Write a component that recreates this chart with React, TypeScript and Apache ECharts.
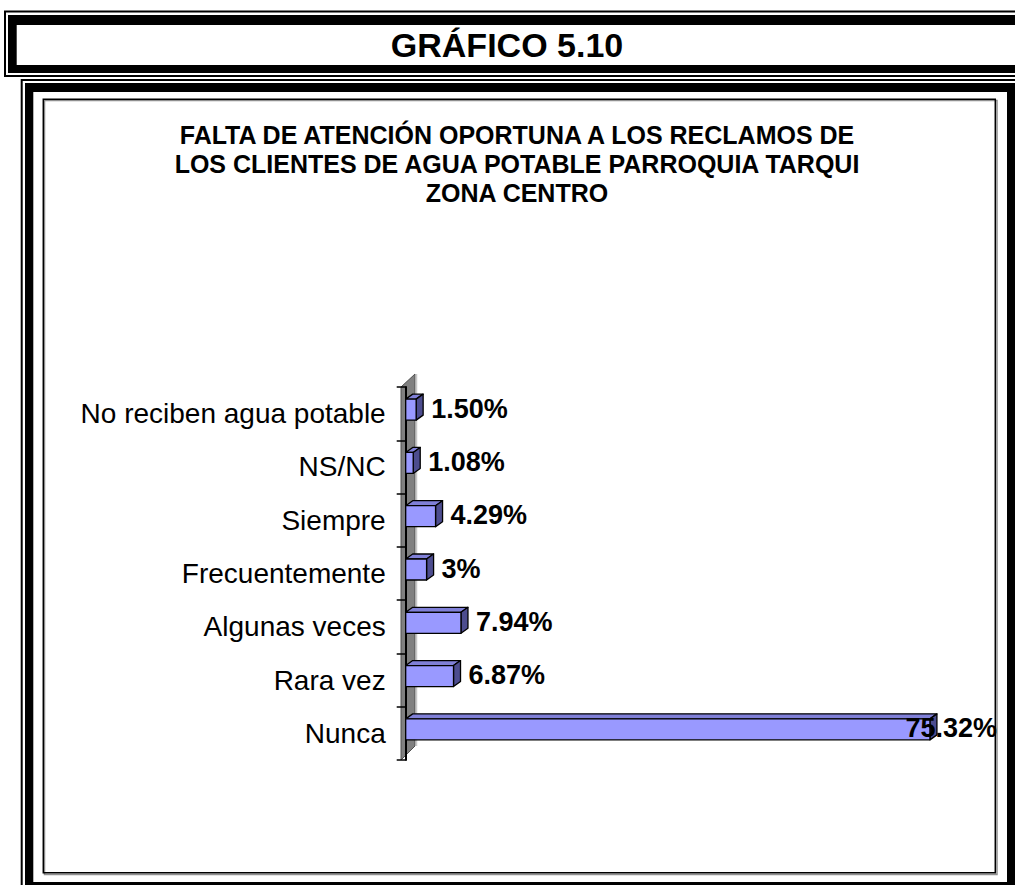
import React, { useEffect, useRef } from "react";
import * as echarts from "echarts";

const categories = [
  "No reciben agua potable",
  "NS/NC",
  "Siempre",
  "Frecuentemente",
  "Algunas veces",
  "Rara vez",
  "Nunca",
];
const percentages = [1.5, 1.08, 4.29, 3, 7.94, 6.87, 75.32];
const percentLabels = ["1.50%", "1.08%", "4.29%", "3%", "7.94%", "6.87%", "75.32%"];
const headerText = "GRÁFICO 5.10";
const titleLines = [
  "FALTA DE ATENCIÓN OPORTUNA A LOS RECLAMOS DE",
  "LOS CLIENTES DE AGUA POTABLE PARROQUIA TARQUI",
  "ZONA CENTRO",
];

const FONT = "'Liberation Sans', Arial, sans-serif";
const GRID_LEFT = 405.7;
const GRID_TOP = 387;
const GRID_H = 373;
const X_MAX = 80;
const PX_PER_UNIT = 6.96;
const PLOT_RIGHT = 997;

export default function App() {
  const ref = useRef<HTMLDivElement>(null);
  useEffect(() => {
    if (!ref.current) return;
    const chart = echarts.init(ref.current, undefined, { renderer: "svg" });
    const frames: any[] = [
      // header box
      { type: "rect", shape: { x: 5, y: 11.5, width: 1100, height: 64.5 }, style: { fill: "none", stroke: "#000", lineWidth: 2 } },
      { type: "rect", shape: { x: 8, y: 15, width: 1100, height: 10 }, style: { fill: "#000" } },
      { type: "rect", shape: { x: 8, y: 65, width: 1100, height: 8 }, style: { fill: "#000" } },
      { type: "rect", shape: { x: 8, y: 15, width: 8.7, height: 58 }, style: { fill: "#000" } },
      // second box
      { type: "rect", shape: { x: 21.7, y: 80, width: 1100, height: 900 }, style: { fill: "none", stroke: "#000", lineWidth: 2 } },
      { type: "rect", shape: { x: 25, y: 83, width: 1100, height: 9 }, style: { fill: "#000" } },
      { type: "rect", shape: { x: 25, y: 83, width: 8.3, height: 900 }, style: { fill: "#000" } },
      { type: "rect", shape: { x: 1007, y: 83, width: 20, height: 900 }, style: { fill: "#000" } },
      { type: "rect", shape: { x: 25, y: 882, width: 1100, height: 20 }, style: { fill: "#000" } },
      // inner frame with shadow
      { type: "rect", shape: { x: 44.5, y: 100.5, width: 952.5, height: 774 }, style: { fill: "none", stroke: "#909090", lineWidth: 1.5 } },
      { type: "rect", shape: { x: 43.3, y: 99.2, width: 952, height: 773.5 }, style: { fill: "none", stroke: "#000", lineWidth: 1.5 } },
      // header text
      { type: "text", x: 507, y: 45, style: { text: headerText, fill: "#000", fontSize: 34, fontWeight: "bold", fontFamily: FONT, align: "center", verticalAlign: "middle" } },
      // title
      ...titleLines.map((t, i) => ({
        type: "text",
        x: 517,
        y: 135 + i * 29,
        style: { text: t, fill: "#000", fontSize: 25, fontWeight: "bold", fontFamily: FONT, align: "center", verticalAlign: "middle" },
      })),
      // 3D side wall
      { type: "polygon", shape: { points: [[401, 387], [415, 374], [415, 746], [401, 760]] }, style: { fill: "#808080", stroke: "#505050", lineWidth: 1 } },
      { type: "line", shape: { x1: 416.5, y1: 374, x2: 416.5, y2: 746 }, style: { stroke: "#c8c8c8", lineWidth: 1.5 } },
    ];

    const option: any = {
      animation: false,
      backgroundColor: "#fff",
      graphic: { elements: frames },
      grid: { left: GRID_LEFT, top: GRID_TOP, width: X_MAX * PX_PER_UNIT, height: GRID_H, containLabel: false },
      xAxis: { type: "value", min: 0, max: X_MAX, show: false },
      yAxis: {
        type: "category",
        data: categories,
        inverse: true,
        offset: 6,
        axisLine: { show: true, lineStyle: { color: "#000", width: 2 } },
        axisTick: { show: true, length: 9, lineStyle: { color: "#000", width: 1.5 } },
        axisLabel: { color: "#000", fontSize: 28, fontFamily: FONT, margin: 14 },
        splitLine: { show: false },
      },
      series: [
        {
          type: "custom",
          data: percentages.map((v, i) => [v, i]),
          encode: { x: 0, y: 1 },
          z: 5,
          renderItem: (params: any, api: any) => {
            const v = api.value(0);
            const idx = api.value(1);
            const p0 = api.coord([0, idx]);
            const p1 = api.coord([v, idx]);
            const h = 21;
            const dx = 7;
            const dy = -5;
            const yc = p0[1] - 4;
            const y0 = yc - h / 2;
            const x0 = p0[0];
            const x1 = p1[0];
            const ls = { stroke: "#000", lineWidth: 1.3, lineJoin: "round" };
            const gap = 15;
            const overflow = x1 + gap + 100 > PLOT_RIGHT;
            return {
              type: "group",
              children: [
                { type: "polygon", shape: { points: [[x0, y0], [x1, y0], [x1 + dx, y0 + dy], [x0 + dx, y0 + dy]] }, style: { fill: "#8080d8", ...ls } },
                { type: "polygon", shape: { points: [[x1, y0], [x1 + dx, y0 + dy], [x1 + dx, y0 + h + dy], [x1, y0 + h]] }, style: { fill: "#4d4d8f", ...ls } },
                { type: "rect", shape: { x: x0, y: y0, width: x1 - x0, height: h }, style: { fill: "#9999ff", ...ls } },
                {
                  type: "text",
                  x: overflow ? PLOT_RIGHT : x1 + gap,
                  y: yc - 1,
                  z2: 10,
                  style: {
                    text: percentLabels[idx],
                    fill: "#000",
                    fontSize: 27,
                    fontWeight: "bold",
                    fontFamily: FONT,
                    align: overflow ? "right" : "left",
                    verticalAlign: "middle",
                  },
                },
              ],
            };
          },
        },
      ],
    };
    chart.setOption(option);
    return () => chart.dispose();
  }, []);
  return <div ref={ref} style={{ position: "absolute", left: 0, top: 0, width: 1015, height: 885 }} />;
}
